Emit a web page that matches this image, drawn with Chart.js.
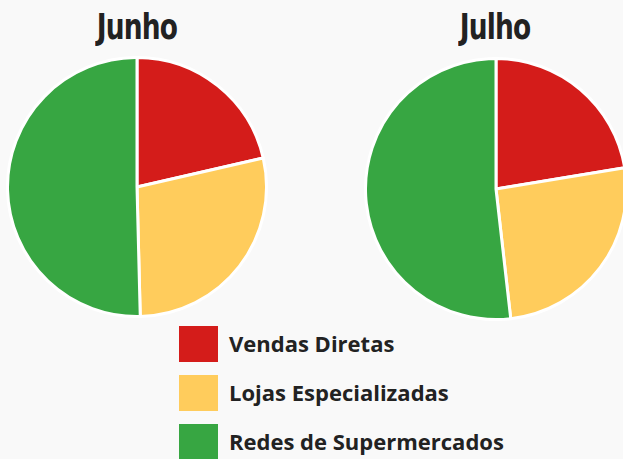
<!DOCTYPE html>
<html>
<head>
<meta charset="utf-8">
<script src="https://cdn.jsdelivr.net/npm/chart.js@4"></script>
<style>
  html, body { margin: 0; padding: 0; }
  body { width: 623px; height: 459px; background: #f9f9f9; position: relative; overflow: hidden; }
  .titulo {
    position: absolute; top: 7px; width: 200px; text-align: center;
    font-family: "DejaVu Sans Condensed", "DejaVu Sans", sans-serif; font-weight: bold;
    font-size: 35px; color: #222; letter-spacing: -1px; transform: scaleX(0.84);
  }
  .pie { position: absolute; }
  #legenda { position: absolute; left: 179px; top: 326px; }
  .item { height: 49px; display: flex; align-items: flex-start; }
  .cor { width: 39px; height: 36px; }
  .txt {
    margin-left: 11px; line-height: 34px;
    font-family: "Open Sans", sans-serif; font-weight: bold; font-size: 22px; color: #222;
  }
</style>
</head>
<body>
<div class="titulo" id="t1" style="left:37px"></div>
<div class="titulo" id="t2" style="left:395px"></div>
<div class="pie" style="left:6px; top:56px; width:262px; height:262px"><canvas id="pieJunho"></canvas></div>
<div class="pie" style="left:364px; top:57px; width:264px; height:264px"><canvas id="pieJulho"></canvas></div>
<div id="legenda"></div>
<script>
// Dados (percentuais)
const canais = ["Vendas Diretas", "Lojas Especializadas", "Redes de Supermercados"];
const meses = ["Junho", "Julho"];
const valoresJunho = [21.4, 28.2, 50.4];
const valoresJulho = [22.4, 25.8, 51.8];
const cores = ["#d41c1a", "#ffcc5c", "#37a642"];

document.getElementById("t1").textContent = meses[0];
document.getElementById("t2").textContent = meses[1];

// Legenda em HTML
const legendaEl = document.getElementById("legenda");
canais.forEach((nome, i) => {
  const item = document.createElement("div");
  item.className = "item";
  item.innerHTML = `<div class="cor" style="background:${cores[i]}"></div><div class="txt"></div>`;
  item.querySelector(".txt").textContent = nome;
  legendaEl.appendChild(item);
});

function desenhaPizza(id, valores) {
  new Chart(document.getElementById(id), {
    type: "pie",
    data: {
      labels: canais,
      datasets: [{
        data: valores,
        backgroundColor: cores,
        borderColor: "#ffffff",
        borderWidth: 3
      }]
    },
    options: {
      responsive: true,
      maintainAspectRatio: false,
      animation: false,
      layout: { padding: 0 },
      plugins: { legend: { display: false }, tooltip: { enabled: false } }
    }
  });
}

desenhaPizza("pieJunho", valoresJunho);
desenhaPizza("pieJulho", valoresJulho);
</script>
</body>
</html>
